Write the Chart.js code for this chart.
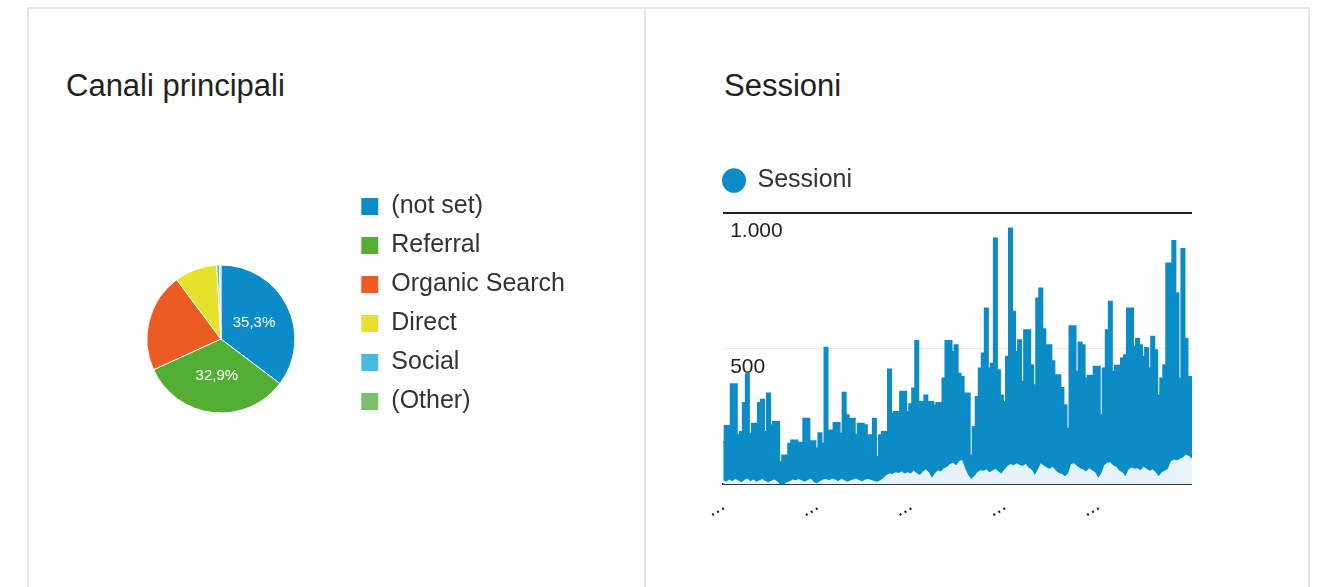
<!DOCTYPE html>
<html lang="it">
<head>
<meta charset="utf-8">
<title>Canali principali - Sessioni</title>
<script src="https://cdn.jsdelivr.net/npm/chart.js@4.4.1/dist/chart.umd.min.js"></script>
<style>
  body { margin: 0; background: #fff; font-family: "Liberation Sans", Arial, sans-serif; overflow: hidden; }
  #pagina { position: relative; width: 1322px; height: 587px; }
  .linea { position: absolute; background: #e6e6e6; }
  .titolo { position: absolute; top: 70px; font-size: 31px; line-height: 31px; color: #212121; white-space: nowrap; }
  canvas { position: absolute; }
</style>
</head>
<body>
<div id="pagina">
  <div class="linea" style="left:27px; top:7px; width:1283px; height:2px;"></div>
  <div class="linea" style="left:27px; top:7px; width:2px; height:590px;"></div>
  <div class="linea" style="left:644px; top:7px; width:2px; height:590px;"></div>
  <div class="linea" style="left:1308px; top:7px; width:2px; height:590px;"></div>

  <div class="titolo" style="left:66px;">Canali principali</div>
  <div class="titolo" style="left:724px;">Sessioni</div>

  <canvas id="torta" width="480" height="318" style="left:95px; top:180px;"></canvas>
  <canvas id="sessioni" width="484" height="370" style="left:708px; top:153px;"></canvas>
</div>

<script>
// Canali principali (torta)
var canali = ["(not set)", "Referral", "Organic Search", "Direct", "Social", "(Other)"];
var percentuali = [35.3, 32.9, 21.6, 9.3, 0.6, 0.3];
var coloriCanali = ["#0b8bc8", "#53ae33", "#ec5b21", "#e6e12b", "#46bcdc", "#7abf6c"];

// Sessioni: picchi e minimi, un valore ogni ~3 px
var sessioniPicchi = [
  156, 215, 215, 369, 369, 181, 193, 300, 406, 187,
  224, 224, 300, 312, 193, 335, 218, 230, 230, 82,
  107, 107, 150, 162, 162, 154, 154, 242, 242, 159,
  159, 132, 189, 150, 504, 199, 199, 226, 226, 187,
  338, 255, 242, 242, 183, 224, 224, 218, 181, 181,
  242, 101, 181, 193, 193, 423, 261, 267, 267, 341,
  341, 267, 295, 353, 528, 304, 304, 328, 304, 304,
  292, 300, 300, 390, 528, 528, 488, 513, 408, 396,
  335, 335, 107, 212, 322, 427, 482, 648, 427, 445,
  906, 421, 328, 304, 470, 943, 636, 488, 531, 378,
  568, 568, 439, 365, 685, 722, 572, 513, 513, 454,
  402, 402, 355, 292, 205, 583, 583, 415, 523, 513,
  390, 400, 400, 434, 434, 255, 427, 568, 673, 415,
  437, 437, 464, 476, 648, 648, 507, 537, 513, 470,
  503, 427, 544, 494, 328, 390, 439, 814, 814, 897,
  704, 390, 867, 537, 396, 396
];
var sessioniMinimi = [
  15, 10, 18, 12, 20, 14, 8, 16, 22, 12,
  18, 10, 15, 20, 12, 8, 14, 18, 10, 0,
  2, 8, 12, 18, 15, 20, 14, 10, 16, 22,
  8, 4, 12, 18, 20, 15, 22, 18, 12, 20,
  16, 10, 14, 18, 22, 15, 12, 18, 20, 16,
  12, 10, 15, 25, 35, 40, 38, 45, 42, 48,
  40, 45, 40, 50, 42, 35, 48, 55, 45, 25,
  40, 52, 48, 60, 65, 75, 80, 70, 85, 90,
  60, 35, 20, 30, 45, 52, 50, 55, 45, 50,
  58, 48, 40, 55, 68, 75, 70, 78, 72, 68,
  75, 62, 55, 35, 55, 78, 70, 62, 58, 65,
  50, 42, 38, 30, 40, 75, 78, 68, 60, 55,
  48, 60, 52, 45, 25, 40, 72, 80, 82, 70,
  65, 50, 45, 30, 55, 62, 58, 60, 52, 65,
  58, 50, 55, 45, 30, 45, 50, 58, 85, 92,
  88, 95, 100, 110, 105, 95
];
var tickAsseX = ["...", "...", "...", "...", "..."];
var tickAsseY = [0, 500, 1000];
var etichetteAsseY = ["", "500", "1.000"];

var fontBase = "'Liberation Sans', Arial, sans-serif";

// percentuali scritte dentro le fette grandi
var etichettePercentuali = {
  id: "etichettePercentuali",
  afterDatasetsDraw: function(chart) {
    var ctx = chart.ctx;
    var meta = chart.getDatasetMeta(0);
    ctx.save();
    ctx.fillStyle = "#ffffff";
    ctx.font = "15px " + fontBase;
    ctx.textAlign = "center";
    ctx.textBaseline = "middle";
    meta.data.forEach(function(arc, i) {
      if (percentuali[i] < 30) return;
      var p = arc.tooltipPosition();
      ctx.fillText(percentuali[i].toFixed(1).replace(".", ",") + "%", p.x, p.y);
    });
    ctx.restore();
  }
};

// un po' di spazio in piu sotto la legenda delle sessioni
var spazioLegenda = {
  id: "spazioLegenda",
  beforeInit: function(chart) {
    var fitOriginale = chart.legend.fit;
    chart.legend.fit = function() {
      fitOriginale.bind(chart.legend)();
      this.height += 10;
    };
  }
};

var tortaChart = new Chart(document.getElementById("torta"), {
  type: "pie",
  data: {
    labels: canali,
    datasets: [{
      data: percentuali,
      backgroundColor: coloriCanali,
      borderColor: "#ffffff",
      borderWidth: 1,
      radius: 74
    }]
  },
  options: {
    responsive: false,
    animation: false,
    plugins: {
      legend: {
        position: "right",
        align: "start",
        labels: {
          boxWidth: 18,
          boxHeight: 18,
          padding: 14,
          color: "#333333",
          font: { size: 25, family: fontBase }
        }
      },
      tooltip: { enabled: false }
    }
  },
  plugins: [etichettePercentuali]
});

// Sessioni (linea)
var giorni = sessioniPicchi.map(function(v, i) { return i; });

var sessioniChart = new Chart(document.getElementById("sessioni"), {
  type: "line",
  data: {
    labels: giorni,
    datasets: [{
      label: "Sessioni",
      data: sessioniPicchi,
      borderColor: "#0b8cc7",
      backgroundColor: "#0b8cc7",
      borderWidth: 2,
      pointRadius: 0,
      stepped: "middle",
      fill: "+1"
    }, {
      label: "minimi",
      data: sessioniMinimi,
      borderColor: "#e7f3fa",
      backgroundColor: "#e7f3fa",
      borderWidth: 0,
      pointRadius: 0,
      fill: "origin"
    }]
  },
  options: {
    responsive: false,
    animation: false,
    plugins: {
      legend: {
        position: "top",
        align: "start",
        labels: {
          usePointStyle: true,
          pointStyle: "circle",
          boxHeight: 16,
          pointStyleWidth: 22,
          padding: 15,
          color: "#333333",
          font: { size: 25, family: fontBase },
          filter: function(item) { return item.datasetIndex === 0; }
        }
      },
      tooltip: { enabled: false }
    },
    scales: {
      x: {
        z: 1,
        grid: { display: false },
        border: { display: true, color: "#222222", width: 2 },
        ticks: {
          autoSkip: false,
          minRotation: 30,
          maxRotation: 30,
          padding: 0,
          color: "#222222",
          font: { size: 21, family: fontBase },
          callback: function(v, i) {
            return (i % 31 === 0 && i / 31 < tickAsseX.length) ? tickAsseX[i / 31] : null;
          }
        }
      },
      y: {
        min: 0,
        max: 1000,
        border: { display: false },
        afterBuildTicks: function(axis) {
          axis.ticks = tickAsseY.map(function(v) { return { value: v }; });
        },
        grid: {
          drawTicks: false,
          color: function(c) {
            if (c.tick.value === 500) return "#ebebeb";
            if (c.tick.value === 1000) return "#222222";
            return "rgba(0,0,0,0)";
          },
          lineWidth: function(c) { return c.tick.value === 500 ? 1 : 2; }
        },
        ticks: {
          mirror: true,
          padding: 7,
          labelOffset: 18,
          color: "#222222",
          font: { size: 21, family: fontBase },
          callback: function(v) { return etichetteAsseY[tickAsseY.indexOf(v)]; }
        }
      }
    }
  },
  plugins: [spazioLegenda]
});
</script>
</body>
</html>
